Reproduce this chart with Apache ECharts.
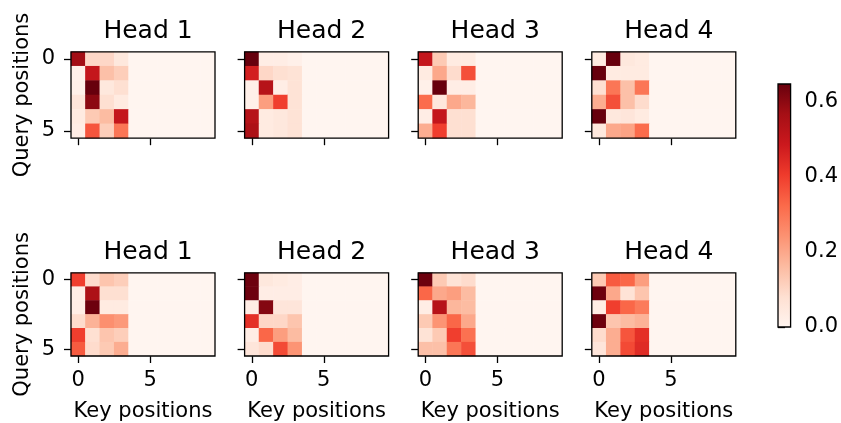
<!DOCTYPE html>
<html>
<head>
<meta charset="utf-8">
<script src="https://cdn.jsdelivr.net/npm/echarts@6/dist/echarts.min.js"></script>
<style>
html,body{margin:0;padding:0;background:#fff;}
#c{width:841px;height:423px;}
</style>
</head>
<body>
<div id="c"></div>
<script>
// ---- data ----
const keyCats = ['0','1','2','3','4','5','6','7','8','9'];
const queryCats = ['0','1','2','3','4','5'];
const headTitles = ['Head 1','Head 2','Head 3','Head 4'];
const cbTicks = [0, 0.2, 0.4, 0.6];
const vMax = 0.648;

// row 1 (top) heads
const r1h1 = [
  [0.57,0.10,0.10,0.05,0,0,0,0,0,0],
  [0.02,0.50,0.15,0.12,0,0,0,0,0,0],
  [0.02,0.65,0.05,0.08,0,0,0,0,0,0],
  [0.06,0.60,0.08,0.04,0,0,0,0,0,0],
  [0.04,0.13,0.16,0.50,0,0,0,0,0,0],
  [0.03,0.36,0.12,0.30,0,0,0,0,0,0]
];
const r1h2 = [
  [0.65,0.03,0.03,0.02,0,0,0,0,0,0],
  [0.47,0.10,0.08,0.07,0,0,0,0,0,0],
  [0.02,0.53,0.03,0.07,0,0,0,0,0,0],
  [0.02,0.22,0.40,0.07,0,0,0,0,0,0],
  [0.53,0.04,0.05,0.07,0,0,0,0,0,0],
  [0.55,0.04,0.05,0.07,0,0,0,0,0,0]
];
const r1h3 = [
  [0.50,0.13,0.04,0.04,0,0,0,0,0,0],
  [0.04,0.20,0.09,0.37,0,0,0,0,0,0],
  [0.02,0.65,0.03,0.03,0,0,0,0,0,0],
  [0.32,0.05,0.20,0.17,0,0,0,0,0,0],
  [0.03,0.50,0.08,0.08,0,0,0,0,0,0],
  [0.19,0.40,0.08,0.08,0,0,0,0,0,0]
];
const r1h4 = [
  [0.04,0.65,0.05,0.04,0,0,0,0,0,0],
  [0.65,0.04,0.04,0.04,0,0,0,0,0,0],
  [0.08,0.30,0.15,0.30,0,0,0,0,0,0],
  [0.19,0.37,0.15,0.09,0,0,0,0,0,0],
  [0.65,0.05,0.06,0.04,0,0,0,0,0,0],
  [0.05,0.20,0.21,0.32,0,0,0,0,0,0]
];
// row 2 (bottom) heads
const r2h1 = [
  [0.40,0.09,0.14,0.12,0,0,0,0,0,0],
  [0.03,0.55,0.08,0.08,0,0,0,0,0,0],
  [0.03,0.64,0.04,0.04,0,0,0,0,0,0],
  [0.09,0.18,0.25,0.23,0,0,0,0,0,0],
  [0.40,0.08,0.14,0.12,0,0,0,0,0,0],
  [0.35,0.09,0.13,0.19,0,0,0,0,0,0]
];
const r2h2 = [
  [0.64,0.05,0.04,0.03,0,0,0,0,0,0],
  [0.64,0.03,0.03,0.03,0,0,0,0,0,0],
  [0.03,0.61,0.06,0.06,0,0,0,0,0,0],
  [0.43,0.10,0.10,0.14,0,0,0,0,0,0],
  [0.03,0.33,0.22,0.16,0,0,0,0,0,0],
  [0.06,0.09,0.38,0.24,0,0,0,0,0,0]
];
const r2h3 = [
  [0.64,0.13,0.07,0.09,0,0,0,0,0,0],
  [0.33,0.20,0.22,0.16,0,0,0,0,0,0],
  [0.03,0.53,0.17,0.16,0,0,0,0,0,0],
  [0.13,0.24,0.33,0.20,0,0,0,0,0,0],
  [0.07,0.13,0.40,0.31,0,0,0,0,0,0],
  [0.15,0.15,0.30,0.37,0,0,0,0,0,0]
];
const r2h4 = [
  [0.13,0.35,0.33,0.22,0,0,0,0,0,0],
  [0.64,0.20,0.07,0.14,0,0,0,0,0,0],
  [0.03,0.40,0.33,0.29,0,0,0,0,0,0],
  [0.64,0.14,0.16,0.18,0,0,0,0,0,0],
  [0.09,0.19,0.36,0.43,0,0,0,0,0,0],
  [0.06,0.19,0.38,0.44,0,0,0,0,0,0]
];
const panels = [r1h1, r1h2, r1h3, r1h4, r2h1, r2h2, r2h3, r2h4];

// ---- styling ----
const reds = ['#fff5f0','#fee0d2','#fcbba1','#fc9272','#fb6a4a','#ef3b2c','#cb181d','#a50f15','#67000d'];
const FONT = 'DejaVu Sans';
const colLefts = [71, 244.6, 418.2, 591.8];
const rowTops = [51.8, 272.8];
const GW = 144, GH = 86.4;
const TICK_FS = 21, NAME_FS = 21, TITLE_FS = 25;

const chart = echarts.init(document.getElementById('c'), null, {renderer:'canvas'});

const grids = [], xAxes = [], yAxes = [], series = [], titles = [];
const tickEvery5 = (i) => i % 5 === 0;

panels.forEach((m, p) => {
  const row = Math.floor(p / 4), col = p % 4;
  grids.push({
    left: colLefts[col], top: rowTops[row], width: GW, height: GH,
    show: true, z: 5, borderColor: '#000', borderWidth: 1.3, backgroundColor: 'transparent'
  });
  xAxes.push({
    type: 'category', gridIndex: p, data: keyCats, position: 'bottom',
    axisLine: {show: false},
    axisTick: {show: true, interval: tickEvery5, alignWithLabel: true, length: 7, lineStyle: {color: '#000', width: 1.3}},
    axisLabel: {show: row === 1, interval: tickEvery5, color: '#000', fontFamily: FONT, fontSize: TICK_FS, margin: 14},
    splitLine: {show: false},
    name: row === 1 ? 'Key positions' : '',
    nameLocation: 'middle', nameGap: 45,
    nameTextStyle: {color: '#000', fontFamily: FONT, fontSize: NAME_FS}
  });
  yAxes.push({
    type: 'category', gridIndex: p, data: queryCats, inverse: true,
    axisLine: {show: false},
    axisTick: {show: true, interval: tickEvery5, alignWithLabel: true, length: 7, lineStyle: {color: '#000', width: 1.3}},
    axisLabel: {show: col === 0, interval: tickEvery5, color: '#000', fontFamily: FONT, fontSize: TICK_FS, margin: 16},
    splitLine: {show: false},
    name: col === 0 ? 'Query positions' : '',
    nameLocation: 'middle', nameGap: 38, nameRotate: 90,
    nameTextStyle: {color: '#000', fontFamily: FONT, fontSize: NAME_FS}
  });
  const data = [];
  m.forEach((rowVals, qi) => rowVals.forEach((v, ki) => data.push([ki, qi, v])));
  series.push({
    type: 'heatmap', xAxisIndex: p, yAxisIndex: p, data: data,
    itemStyle: {borderWidth: 0}, emphasis: {disabled: true}, silent: true, progressive: 0
  });
  titles.push({
    text: headTitles[col], left: colLefts[col] + GW / 2, top: rowTops[row] - 38, textAlign: 'center',
    textStyle: {color: '#000', fontFamily: FONT, fontSize: TITLE_FS, fontWeight: 'normal'}
  });
});

// colorbar grid (index 8)
const cbTop = 84, cbBottom = 327;
grids.push({
  left: 778, top: cbTop, width: 13, height: cbBottom - cbTop,
  show: true, z: 5, borderColor: '#000', borderWidth: 1.3,
  backgroundColor: {
    type: 'linear', x: 0, y: 1, x2: 0, y2: 0,
    colorStops: reds.map((c, i) => ({offset: i / (reds.length - 1), color: c}))
  }
});
xAxes.push({type: 'value', gridIndex: 8, show: false, min: 0, max: 1});
yAxes.push({
  type: 'value', gridIndex: 8, position: 'right', min: 0, max: vMax, interval: 0.2,
  axisLine: {show: false},
  axisTick: {show: true, length: 7, lineStyle: {color: '#000', width: 1.3}},
  axisLabel: {show: true, color: '#000', fontFamily: FONT, fontSize: TICK_FS, margin: 14,
    formatter: (v) => cbTicks.indexOf(Math.round(v * 10) / 10) >= 0 ? v.toFixed(1) : ''},
  splitLine: {show: false}
});

chart.setOption({
  animation: false,
  backgroundColor: '#fff',
  title: titles,
  grid: grids,
  xAxis: xAxes,
  yAxis: yAxes,
  visualMap: {
    type: 'continuous', show: false, min: 0, max: vMax,
    seriesIndex: [0,1,2,3,4,5,6,7],
    inRange: {color: reds}
  },
  series: series
});
</script>
</body>
</html>
